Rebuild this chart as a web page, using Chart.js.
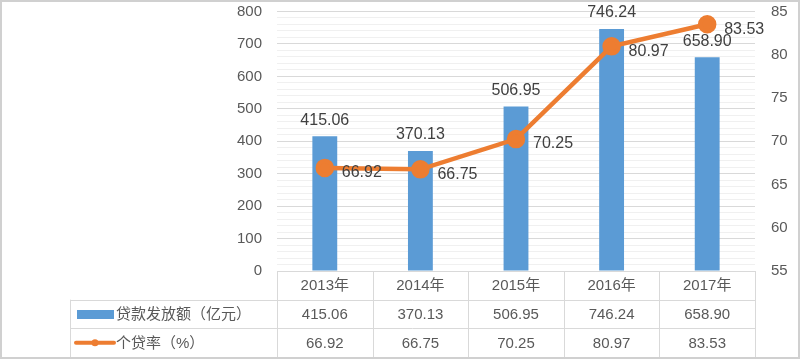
<!DOCTYPE html>
<html>
<head>
<meta charset="utf-8">
<script src="https://cdn.jsdelivr.net/npm/chart.js@4.4.0/dist/chart.umd.min.js"></script>
<style>
  body { margin: 0; background: #fff; }
  canvas { display: block; }
</style>
</head>
<body>
<canvas id="loanChart" width="800" height="359"></canvas>
<script>
var years = ['2013年', '2014年', '2015年', '2016年', '2017年'];
var loanAmount = [415.06, 370.13, 506.95, 746.24, 658.90];
var loanRate = [66.92, 66.75, 70.25, 80.97, 83.53];
var amountLabel = '贷款发放额（亿元）';
var rateLabel = '个贷率（%）';

var barColor = '#5b9bd5';
var lineColor = '#ed7d31';
var textColor = '#595959';
var fontFamily = '"Liberation Sans", "Noto Sans CJK SC", sans-serif';

Chart.defaults.font.family = fontFamily;
Chart.defaults.color = textColor;

// value labels on bars and points
const valueLabels = {
  id: 'valueLabels',
  afterDatasetsDraw(chart) {
    const ctx = chart.ctx;
    ctx.save();
    ctx.font = '16px ' + fontFamily;
    ctx.fillStyle = '#404040';
    chart.getDatasetMeta(0).data.forEach(function (bar, i) {
      ctx.textAlign = 'center';
      ctx.textBaseline = 'bottom';
      ctx.fillText(loanAmount[i].toFixed(2), bar.x, bar.y - 8);
    });
    chart.getDatasetMeta(1).data.forEach(function (pt, i) {
      ctx.textAlign = 'left';
      ctx.textBaseline = 'middle';
      ctx.fillText(loanRate[i].toFixed(2), pt.x + 17, pt.y + 5);
    });
    ctx.restore();
  }
};

// data table under the plot, plus frame round the picture
const dataTable = {
  id: 'dataTable',
  afterDraw(chart) {
    const ctx = chart.ctx;
    const area = chart.chartArea;
    const n = years.length;
    const colW = (area.right - area.left) / n;
    const top = area.bottom;
    const bottom = 357;
    const rowH = (bottom - top) / 3;
    const tableLeft = 70;
    ctx.save();
    ctx.strokeStyle = '#d9d9d9';
    ctx.lineWidth = 1;
    ctx.beginPath();
    for (let i = 0; i <= n; i++) {
      let x = Math.round(area.left + i * colW) + 0.5;
      ctx.moveTo(x, top);
      ctx.lineTo(x, bottom);
    }
    for (let r = 1; r <= 3; r++) {
      let y = Math.round(top + r * rowH) + 0.5;
      ctx.moveTo(tableLeft, y);
      ctx.lineTo(area.right, y);
    }
    ctx.moveTo(tableLeft + 0.5, top + rowH);
    ctx.lineTo(tableLeft + 0.5, bottom);
    ctx.stroke();

    ctx.font = '15px ' + fontFamily;
    ctx.fillStyle = textColor;
    ctx.textAlign = 'center';
    ctx.textBaseline = 'middle';
    for (let i = 0; i < n; i++) {
      let cx = area.left + (i + 0.5) * colW;
      ctx.fillText(years[i], cx, top + rowH * 0.5 + 1);
      ctx.fillText(loanAmount[i].toFixed(2), cx, top + rowH * 1.5 + 1);
      ctx.fillText(loanRate[i].toFixed(2), cx, top + rowH * 2.5 + 1);
    }

    // legend keys
    ctx.textAlign = 'left';
    ctx.fillText(amountLabel, 116, top + rowH * 1.5 + 1);
    ctx.fillText(rateLabel, 116, top + rowH * 2.5 + 1);
    ctx.fillStyle = barColor;
    ctx.fillRect(77, Math.round(top + rowH * 1.5) - 4, 37, 9);
    let ly = top + rowH * 2.5;
    ctx.strokeStyle = lineColor;
    ctx.lineWidth = 4;
    ctx.lineCap = 'round';
    ctx.beginPath();
    ctx.moveTo(76, ly);
    ctx.lineTo(114, ly);
    ctx.stroke();
    ctx.fillStyle = lineColor;
    ctx.beginPath();
    ctx.arc(95, ly, 3.5, 0, Math.PI * 2);
    ctx.fill();

    // frame
    ctx.strokeStyle = '#d0d0d0';
    ctx.lineWidth = 2;
    ctx.strokeRect(1, 1, 798, 357);
    ctx.restore();
  }
};

// axis widths fixed so the plot lines up with the table columns
function fitLeft(s) { s.width = 277; s.paddingTop = 0; s.paddingBottom = 0; }
function fitRight(s) { s.width = 45; s.paddingTop = 0; s.paddingBottom = 0; }

const chart = new Chart(document.getElementById('loanChart'), {
  type: 'bar',
  data: {
    labels: years,
    datasets: [{
      label: amountLabel,
      data: loanAmount,
      backgroundColor: barColor,
      yAxisID: 'y',
      barPercentage: 0.26,
      categoryPercentage: 1,
      order: 2
    }, {
      type: 'line',
      label: rateLabel,
      data: loanRate,
      borderColor: lineColor,
      backgroundColor: lineColor,
      borderWidth: 4.5,
      pointRadius: 7,
      pointBackgroundColor: lineColor,
      pointBorderColor: lineColor,
      tension: 0,
      yAxisID: 'y1',
      order: 1
    }]
  },
  options: {
    responsive: false,
    animation: false,
    devicePixelRatio: 1,
    layout: { padding: { top: 11, bottom: 88, left: 0, right: 0 } },
    plugins: {
      legend: { display: false },
      tooltip: { enabled: false }
    },
    scales: {
      x: { display: false },
      y: {
        position: 'left',
        min: 0,
        max: 800,
        border: { display: false },
        grid: {
          drawTicks: false,
          color: function (c) {
            return c.tick.value % 100 === 0 ? '#d9d9d9' : '#f0f0f0';
          }
        },
        ticks: {
          stepSize: 20,
          maxTicksLimit: 100,
          autoSkip: false,
          padding: 15,
          font: { size: 15 },
          color: textColor,
          callback: function (v) { return v % 100 === 0 ? v : ''; }
        },
        afterFit: fitLeft
      },
      y1: {
        position: 'right',
        min: 55,
        max: 85,
        border: { display: false },
        grid: { display: false, drawTicks: false },
        ticks: {
          stepSize: 5,
          padding: 16,
          font: { size: 15 },
          color: textColor
        },
        afterFit: fitRight
      }
    }
  },
  plugins: [valueLabels, dataTable]
});
</script>
</body>
</html>
